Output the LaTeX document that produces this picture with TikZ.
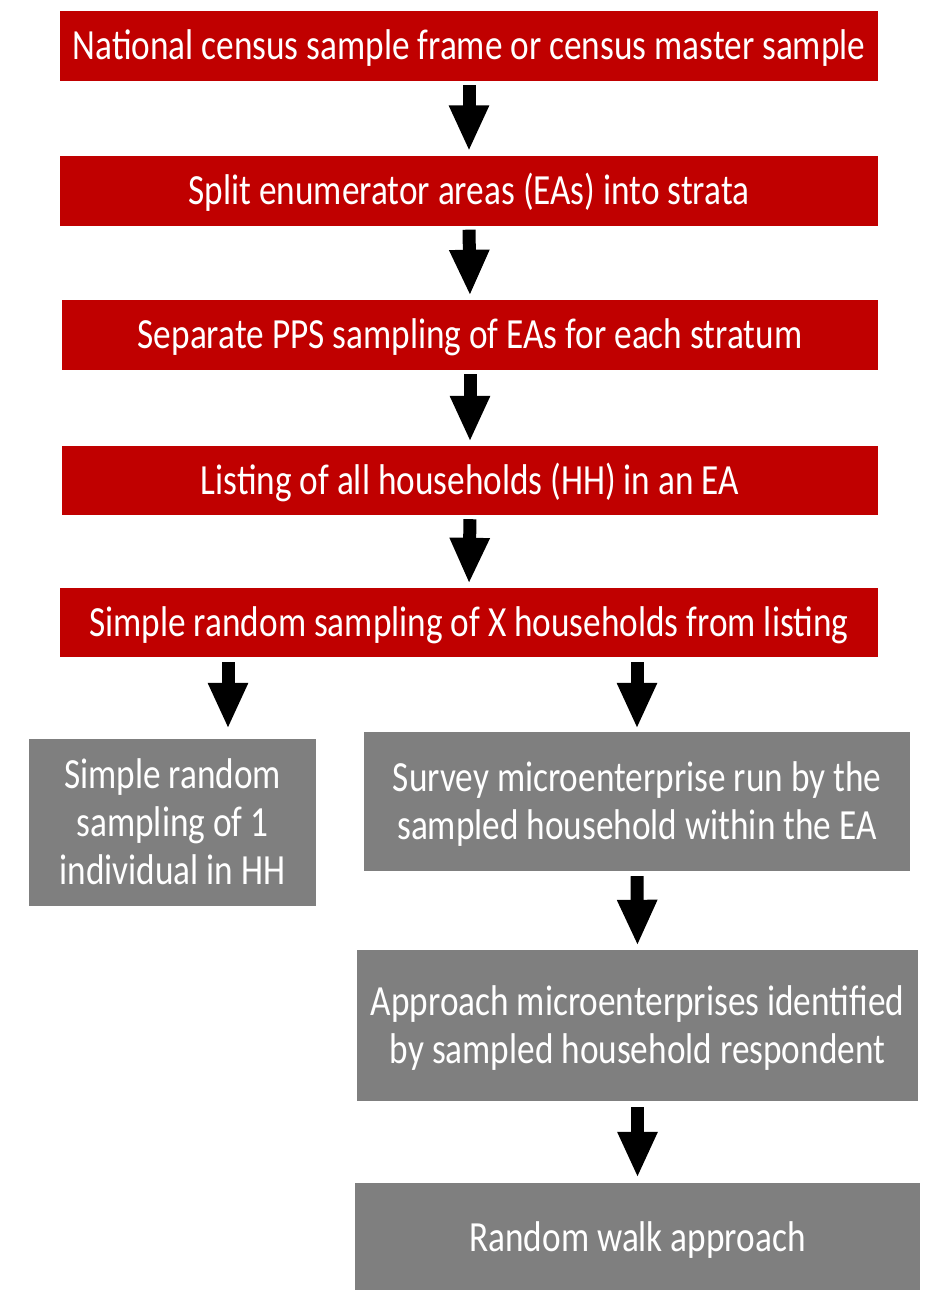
\documentclass[tikz,border=0pt]{standalone}
\usepackage{fontspec}
\setmainfont{Carlito}[FakeStretch=0.82]
\usetikzlibrary{arrows.meta}
\definecolor{boxred}{HTML}{C00000}
\definecolor{boxgray}{HTML}{7F7F7F}
\begin{document}
\begin{tikzpicture}[x=1pt,y=-1pt,
  basebox/.style={inner sep=0pt, text=white, align=center,
    font=\fontsize{43}{48}\selectfont, text depth=0pt},
  redbox/.style={basebox, fill=boxred, text height=27.7pt},
  graybox/.style={basebox, fill=boxgray},
  blk/.style={line width=13pt, -{Triangle[width=37pt,length=46pt]},
    shorten <=4pt, shorten >=4pt}]
\useasboundingbox (0,0) rectangle (932,1290);
\clip (0,0) rectangle (932,1290);
\fill[white] (0,0) rectangle (932,1290);

\node[redbox, minimum width=818pt, minimum height=70pt] (b1) at (469,46)
  {National census sample frame or census master sample};
\node[redbox, minimum width=818pt, minimum height=70pt] (b2) at (469,190.5)
  {Split enumerator areas (EAs) into strata};
\node[redbox, minimum width=816pt, minimum height=70pt] (b3) at (470,335)
  {Separate PPS sampling of EAs for each stratum};
\node[redbox, minimum width=816pt, minimum height=69pt] (b4) at (470,480.5)
  {Listing of all households (HH) in an EA};
\node[redbox, minimum width=818pt, minimum height=69pt] (b5) at (469,622.5)
  {Simple random sampling of X households from listing};

\node[graybox, text height=123.7pt, minimum width=287pt, minimum height=167pt] (g1) at (172.5,822.5)
  {Simple random\\ sampling of 1\\ individual in HH};
\node[graybox, text height=75.7pt, minimum width=546pt, minimum height=139pt] (g2) at (637,801.5)
  {Survey microenterprise run by the\\ sampled household within the EA};
\node[graybox, text height=75.7pt, minimum width=561pt, minimum height=151pt] (g3) at (637.5,1025.5)
  {Approach microenterprises identified\\ by sampled household respondent};
\node[graybox, text height=27.7pt, minimum width=565pt, minimum height=110pt] (g4) at (637.5,1238)
  {Random walk approach};

\coordinate (lx) at (228,0);
\coordinate (rx) at (637,0);

\draw[blk] (b1.south) -- (b2.north);
\draw[blk] (b2.south) -- (b3.north);
\draw[blk] (b3.south) -- (b4.north);
\draw[blk] (b4.south) -- (b5.north);
\draw[blk, shorten <=5pt, shorten >=10pt] (b5.south -| lx) -- (g1.north -| lx);
\draw[blk, shorten <=5pt, shorten >=3pt] (b5.south -| rx) -- (g2.north);
\draw[blk, shorten <=5pt, shorten >=4pt] (g2.south) -- (g3.north);
\draw[blk, shorten <=6pt, shorten >=5pt] (g3.south) -- (g4.north);
\end{tikzpicture}
\end{document}
